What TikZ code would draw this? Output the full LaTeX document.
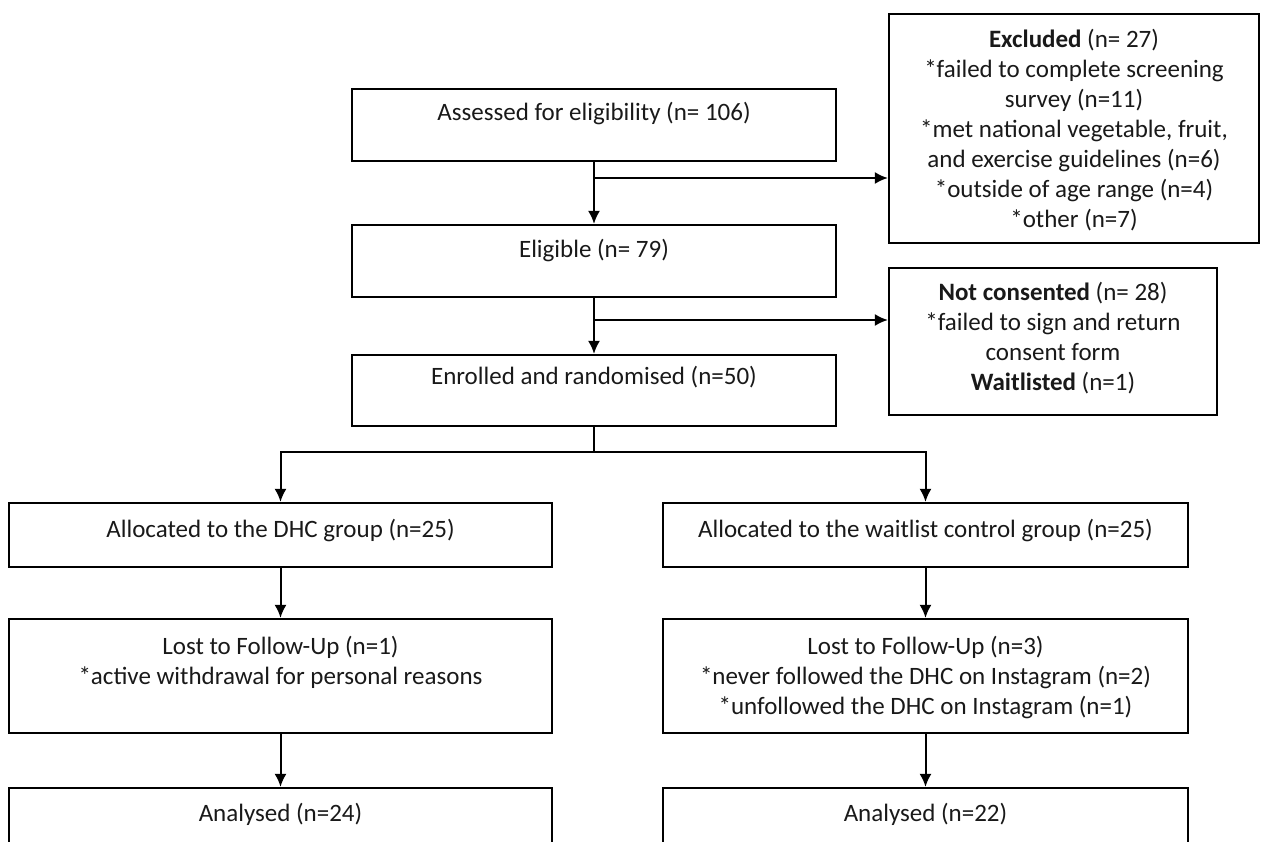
\documentclass[tikz,border=0pt]{standalone}
\usepackage{fontspec}
\setmainfont{Carlito}
\usetikzlibrary{arrows.meta}

\begin{document}
\begin{tikzpicture}[x=1pt,y=-1pt,
	boite/.style={draw, line width=2.2pt, inner sep=0pt},
	texte/.style={anchor=north, align=center, inner sep=0pt, text=black!90, font=\fontsize{25}{30}\selectfont},
	fleche/.style={line width=2pt, -{Latex[length=13pt,width=12pt]}}]
	\useasboundingbox (0,0) rectangle (1261,841);
	\clip (0,0) rectangle (1261,841);
	\node [boite, minimum width=484pt, minimum height=72pt] (assessed) at (594,125) {};
	\node [texte] (assessed-t) at (594,102) {Assessed for eligibility (n= 106)};
	\node [boite, minimum width=370pt, minimum height=229pt] (excluded) at (1074,128.5) {};
	\node [texte] (excluded-t) at (1074,29) {\textbf{Excluded} (n= 27)\\*failed to complete screening\\survey (n=11)\\*met national vegetable, fruit,\\and exercise guidelines (n=6)\\*outside of age range (n=4)\\*other (n=7)};
	\node [boite, minimum width=484pt, minimum height=72pt] (eligible) at (594,261) {};
	\node [texte] (eligible-t) at (594,239) {Eligible (n= 79)};
	\node [boite, minimum width=328pt, minimum height=147pt] (notcons) at (1053,341.5) {};
	\node [texte] (notcons-t) at (1053,282) {\textbf{Not consented} (n= 28)\\*failed to sign and return\\consent form\\\textbf{Waitlisted} (n=1)};
	\node [boite, minimum width=484pt, minimum height=71pt] (enrolled) at (594,390.5) {};
	\node [texte] (enrolled-t) at (594,366) {Enrolled and randomised (n=50)};
	\node [boite, minimum width=543pt, minimum height=64pt] (dhc) at (280.5,535) {};
	\node [texte] (dhc-t) at (280.5,519) {Allocated to the DHC group (n=25)};
	\node [boite, minimum width=525pt, minimum height=64pt] (wl) at (925.5,535) {};
	\node [texte] (wl-t) at (925.5,519) {Allocated to the waitlist control group (n=25)};
	\node [boite, minimum width=543pt, minimum height=114pt] (lost-dhc) at (280.5,676) {};
	\node [texte] (lost-dhc-t) at (280.5,636) {Lost to Follow-Up (n=1)\\*active withdrawal for personal reasons};
	\node [boite, minimum width=525pt, minimum height=114pt] (lost-wl) at (925.5,676) {};
	\node [texte] (lost-wl-t) at (925.5,636) {Lost to Follow-Up (n=3)\\*never followed the DHC on Instagram (n=2)\\*unfollowed the DHC on Instagram (n=1)};
	\node [boite, minimum width=543pt, minimum height=100pt] (ana-dhc) at (280.5,838) {};
	\node [texte] (ana-dhc-t) at (280.5,803) {Analysed (n=24)};
	\node [boite, minimum width=525pt, minimum height=100pt] (ana-wl) at (925.5,838) {};
	\node [texte] (ana-wl-t) at (925.5,803) {Analysed (n=22)};
	\coordinate (b1) at (594,178);
	\coordinate (b2) at (594,320);
	\coordinate (split) at (594,452);
	\draw [fleche] (assessed.south) -- (eligible.north);
	\draw [fleche] (b1) -- (b1 -| excluded.west);
	\draw [fleche] (eligible.south) -- (enrolled.north);
	\draw [fleche] (b2) -- (b2 -| notcons.west);
	\draw [line width=2pt] (enrolled.south) -- (split);
	\draw [fleche] (split) -| (dhc.north);
	\draw [fleche] (split) -| (wl.north);
	\draw [fleche] (dhc.south) -- (lost-dhc.north);
	\draw [fleche] (wl.south) -- (lost-wl.north);
	\draw [fleche] (lost-dhc.south) -- (ana-dhc.north);
	\draw [fleche] (lost-wl.south) -- (ana-wl.north);
\end{tikzpicture}
\end{document}
